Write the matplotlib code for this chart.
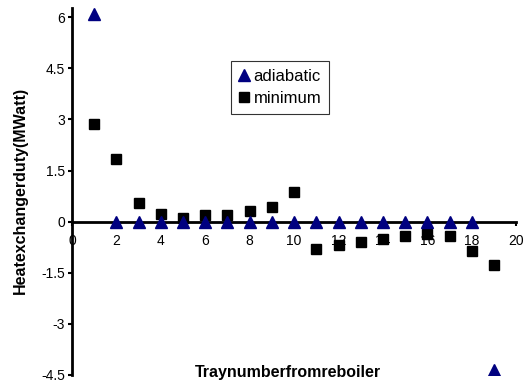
import matplotlib.pyplot as plt

plt.rcParams['font.family'] = ['Liberation Sans', 'DejaVu Sans']

# Tray numbers counted from the reboiler
trays = list(range(1, 20))

# Heat exchanger duty per tray (MWatt)
adiabatic = [6.1, 0, 0, 0, 0, 0, 0, 0, 0, 0, 0, 0, 0, 0, 0, 0, 0, 0, -4.36]
minimum = [2.88, 1.83, 0.56, 0.24, 0.12, 0.21, 0.21, 0.31, 0.44, 0.87,
           -0.81, -0.69, -0.59, -0.52, -0.42, -0.35, -0.42, -0.87, -1.28]

y_ticks = [-4.5, -3, -1.5, 0, 1.5, 3, 4.5, 6]
y_labels = ['-4.5', '-3', '-1.5', '0', '1.5', '3', '4.5', '6']
x_ticks = [0, 2, 4, 6, 8, 10, 12, 14, 16, 18, 20]

fig = plt.figure(figsize=(5.28, 3.85), dpi=100)
ax = fig.add_axes([0.1364, 0.026, 0.8413, 0.953])

ax.plot(trays, minimum, linestyle='none', marker='s', markersize=7.5,
        color='black', label='minimum', zorder=3)
ax.plot(trays, adiabatic, linestyle='none', marker='^', markersize=8,
        color='#000080', label='adiabatic', zorder=4)

ax.set_xlim(0, 20)
ax.set_ylim(-4.5, 6.27)
ax.set_yticks(y_ticks)
ax.set_yticklabels(y_labels)
ax.set_xticks(x_ticks)

# axes cross at y = 0, only left and bottom lines
ax.spines['bottom'].set_position(('data', 0))
ax.spines['top'].set_visible(False)
ax.spines['right'].set_visible(False)
ax.spines['left'].set_linewidth(2)
ax.spines['bottom'].set_linewidth(2)
ax.tick_params(axis='both', direction='out', length=3, width=1.5,
               labelsize=10, pad=2)
ax.tick_params(axis='x', pad=6)

fig.text(0.038, 0.505, 'Heatexchangerduty(MWatt)', rotation=90,
         ha='center', va='center', fontsize=11.5, fontweight='bold')
fig.text(0.545, 0.032, 'Traynumberfromreboiler', ha='center', va='center',
         fontsize=11.5, fontweight='bold')

handles, labels = ax.get_legend_handles_labels()
leg = ax.legend(handles[::-1], labels[::-1], loc='upper left',
                bbox_to_anchor=(0.358, 0.855), fontsize=12, frameon=True,
                fancybox=False, handlelength=0.6, handletextpad=0.3,
                borderpad=0.45, labelspacing=0.45, borderaxespad=0,
                markerscale=1.0)
leg.get_frame().set_edgecolor('black')
leg.get_frame().set_linewidth(0.8)

fig.savefig('out.png', dpi=100)
